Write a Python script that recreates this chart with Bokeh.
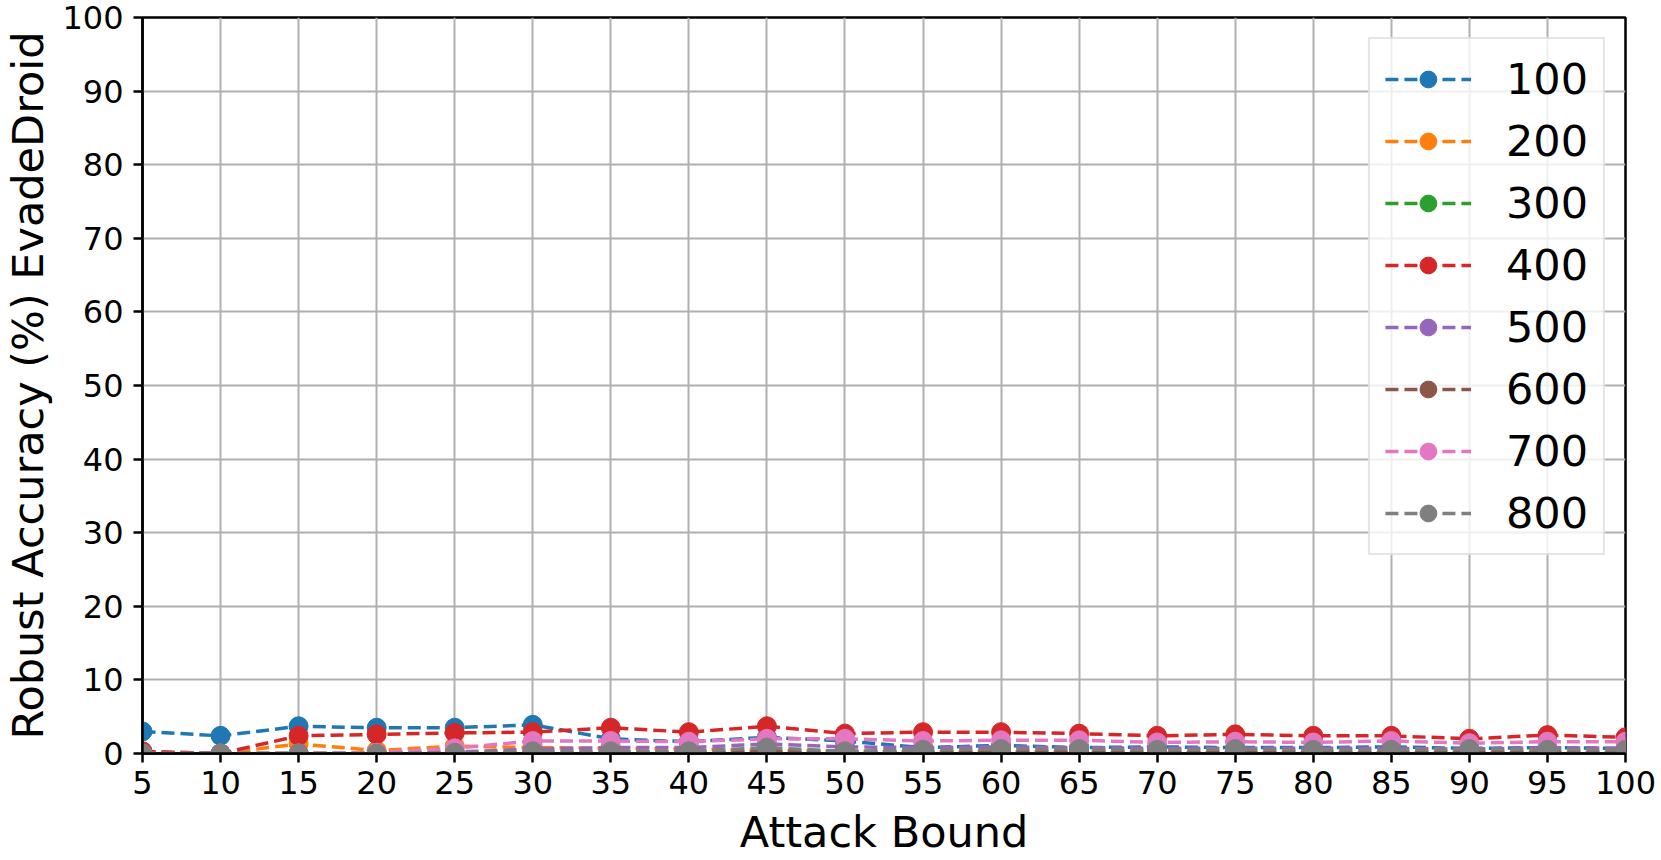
from bokeh.plotting import figure
from bokeh.models import Legend, LegendItem, FixedTicker, Range1d
from bokeh.embed import file_html
from bokeh.resources import INLINE

attack_bound = [5, 10, 15, 20, 25, 30, 35, 40, 45, 50, 55, 60, 65, 70, 75, 80, 85, 90, 95, 100]

acc_100 = [3.0, 2.4, 3.7, 3.5, 3.5, 3.9, 2.0, 1.6, 2.2, 1.7, 0.8, 1.1, 0.8, 0.9, 0.8, 0.8, 0.9, 0.7, 0.8, 0.7]
acc_200 = [0.2, 0.0, 1.3, 0.4, 1.0, 0.8, 0.7, 0.6, 0.4, 0.3, 0.2, 0.2, 0.2, 0.1, 0.1, 0.1, 0.1, 0.1, 0.1, 0.1]
acc_300 = [0.0, 0.0, 0.0, 0.0, 0.0, 0.0, 0.0, 0.0, 0.1, 0.1, 0.1, 0.0, 0.1, 0.0, 0.0, 0.0, 0.0, 0.0, 0.0, 0.0]
acc_400 = [0.3, 0.0, 2.4, 2.6, 2.8, 2.9, 3.5, 2.9, 3.7, 2.7, 2.9, 2.9, 2.7, 2.4, 2.6, 2.4, 2.4, 2.0, 2.5, 2.2]
acc_500 = [0.0, 0.0, 0.0, 0.0, 0.2, 0.6, 0.8, 0.8, 1.3, 0.9, 0.8, 0.9, 0.8, 0.7, 0.7, 0.7, 0.7, 0.6, 0.8, 0.7]
acc_600 = [0.0, 0.0, 0.0, 0.0, 0.0, 0.1, 0.2, 0.2, 0.3, 0.3, 0.2, 0.3, 0.3, 0.2, 0.2, 0.2, 0.2, 0.2, 0.2, 0.2]
acc_700 = [0.0, 0.0, 0.0, 0.1, 0.7, 1.7, 1.7, 1.6, 2.0, 2.0, 1.7, 1.8, 1.8, 1.5, 1.6, 1.5, 1.7, 1.4, 1.6, 1.6]
acc_800 = [0.0, 0.0, 0.0, 0.0, 0.1, 0.3, 0.3, 0.3, 0.8, 0.3, 0.5, 0.6, 0.6, 0.5, 0.6, 0.5, 0.5, 0.6, 0.5, 0.5]

series_names = ["100", "200", "300", "400", "500", "600", "700", "800"]
series_values = [acc_100, acc_200, acc_300, acc_400, acc_500, acc_600, acc_700, acc_800]
colors = ["#1f77b4", "#ff7f0e", "#2ca02c", "#d62728", "#9467bd", "#8c564b", "#e377c2", "#7f7f7f"]

x_ticks = attack_bound
y_ticks = [0, 10, 20, 30, 40, 50, 60, 70, 80, 90, 100]

FONT = "DejaVu Sans"

p = figure(width=1661, height=860, output_backend="svg", toolbar_location=None,
           x_range=Range1d(5, 100), y_range=Range1d(0, 100),
           min_border_left=139, min_border_right=36, min_border_top=17, min_border_bottom=107)

p.background_fill_color = "white"
p.border_fill_color = "white"
p.outline_line_color = "black"
p.outline_line_width = 2.5

items = []
for name, vals, col in zip(series_names, series_values, colors):
    r1 = p.line(attack_bound, vals, line_color=col, line_width=3.5, line_dash="13 6")
    r2 = p.scatter(attack_bound, vals, marker="circle", size=19, fill_color=col, line_color=col)
    items.append(LegendItem(label=name, renderers=[r1, r2]))

for ax in (p.xaxis[0], p.yaxis[0]):
    ax.axis_line_width = 2.5
    ax.axis_line_color = "black"
    ax.major_tick_line_width = 2.5
    ax.major_tick_line_color = "black"
    ax.major_tick_out = 9
    ax.major_tick_in = 0
    ax.minor_tick_line_color = None
    ax.major_label_text_font = FONT
    ax.major_label_text_font_size = "32px"
    ax.major_label_text_color = "black"
    ax.axis_label_text_font = FONT
    ax.axis_label_text_font_size = "43px"
    ax.axis_label_text_font_style = "normal"
    ax.axis_label_text_color = "black"

p.xaxis.major_label_standoff = 8
p.yaxis.major_label_standoff = 10
p.xaxis.axis_label_standoff = 10
p.yaxis.axis_label_standoff = 6
p.xaxis.ticker = FixedTicker(ticks=x_ticks)
p.yaxis.ticker = FixedTicker(ticks=y_ticks)
p.xaxis.axis_label = "Attack Bound"
p.yaxis.axis_label = "Robust Accuracy (%) EvadeDroid"

p.xgrid.grid_line_color = "#b0b0b0"
p.ygrid.grid_line_color = "#b0b0b0"
p.xgrid.grid_line_width = 2
p.ygrid.grid_line_width = 2
p.xgrid.ticker = FixedTicker(ticks=x_ticks)
p.ygrid.ticker = FixedTicker(ticks=y_ticks)

legend = Legend(items=items, location="top_right")
legend.margin = 20
legend.padding = 15
legend.spacing = 12
legend.glyph_width = 86
legend.glyph_height = 42
legend.label_height = 42
legend.label_standoff = 35
legend.label_text_font = FONT
legend.label_text_font_size = "43px"
legend.label_text_color = "black"
legend.border_line_color = "#cccccc"
legend.border_line_width = 2
legend.background_fill_color = "white"
legend.background_fill_alpha = 0.8
p.add_layout(legend)

open("out.html", "w").write(file_html(p, INLINE))
